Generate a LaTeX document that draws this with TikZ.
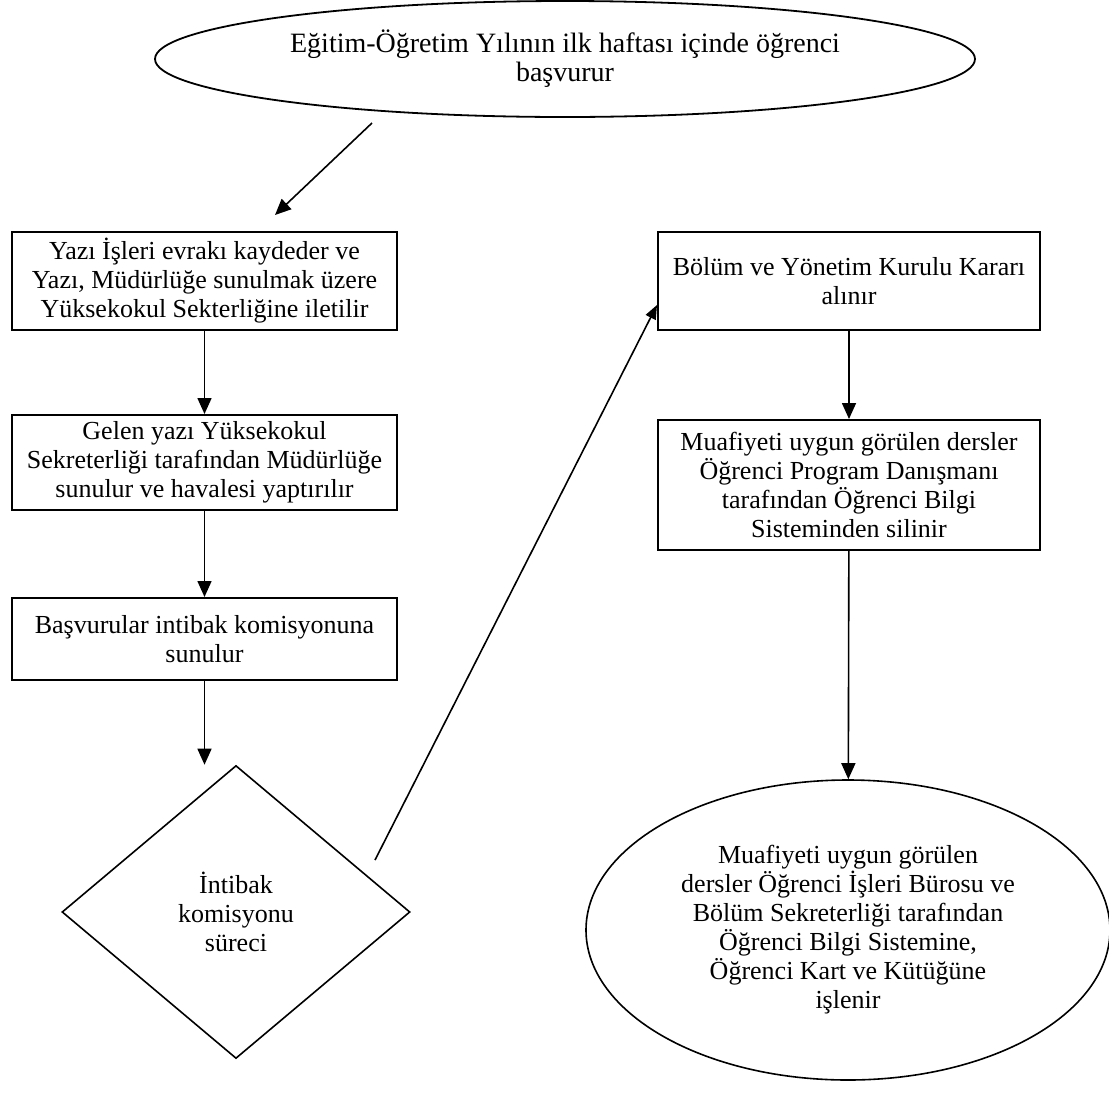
\documentclass[tikz,border=0pt]{standalone}
\usepackage{fontspec}
\setmainfont{Liberation Serif}
\usetikzlibrary{arrows.meta}
\usetikzlibrary{shapes.geometric}

\begin{document}
\begin{tikzpicture}[x=0.5pt,y=0.5pt,
        every node/.style={font=\fontsize{13}{14.5}\selectfont, align=center, inner sep=0pt},
        kutu/.style={draw, line width=1pt, minimum width=192.5pt},
        ok/.style={-{Triangle[length=8pt,width=7pt]}, line width=0.8pt}]
                \useasboundingbox (0,0) rectangle (1109,-1109);

                \node[ellipse, draw, line width=0.9pt, minimum width=410pt, minimum height=58pt, font=\fontsize{14}{14.5}\selectfont] (basla) at (565,-59) {Eğitim-Öğretim Yılının ilk haftası içinde öğrenci\\başvurur};
                \node[kutu, minimum height=49pt] (kayit) at (204.5,-281) {Yazı İşleri evrakı kaydeder ve\\Yazı, Müdürlüğe sunulmak üzere\\Yüksekokul Sekterliğine iletilir};
                \node[kutu, minimum height=47.5pt] (sunum) at (204.5,-462.5) {Gelen yazı Yüksekokul\\Sekreterliği tarafından Müdürlüğe\\sunulur ve havalesi yaptırılır};
                \node[kutu, minimum height=41pt] (basvuru) at (204.5,-639) {Başvurular intibak komisyonuna\\sunulur};
                \node[diamond, draw, line width=0.8pt, minimum width=174pt, minimum height=146.5pt] (komisyon) at (236,-912) {İntibak\\komisyonu\\süreci};
                \node[kutu, minimum width=191pt, minimum height=49pt] (karar) at (849,-281) {Bölüm ve Yönetim Kurulu Kararı\\alınır};
                \node[kutu, minimum width=191pt, minimum height=65pt] (silme) at (849,-485) {Muafiyeti uygun görülen dersler\\Öğrenci Program Danışmanı\\tarafından Öğrenci Bilgi\\Sisteminden silinir};
                \node[ellipse, draw, line width=0.8pt, minimum width=262pt, minimum height=150pt] (isleme) at (848,-930) {Muafiyeti uygun görülen\\dersler Öğrenci İşleri Bürosu ve\\Bölüm Sekreterliği tarafından\\Öğrenci Bilgi Sistemine,\\Öğrenci Kart ve Kütüğüne\\işlenir};

                \coordinate (c1) at (372,-123);
                \coordinate (c2) at (275,-215);
                \coordinate (c3) at (375,-860);

                \draw[ok] (c1) to (c2);
                \draw[ok] (kayit) to (sunum);
                \draw[ok] (sunum) to (basvuru);
                \draw[ok] (basvuru.south) to (basvuru.south |- komisyon.north);
                \draw[ok, -{Triangle[length=7pt,width=5.5pt]}] (c3) to ([yshift=-12pt]karar.west);
                \draw[ok] (karar) to (silme);
                \draw[ok] (silme) to (isleme);
            \end{tikzpicture}
\end{document}
